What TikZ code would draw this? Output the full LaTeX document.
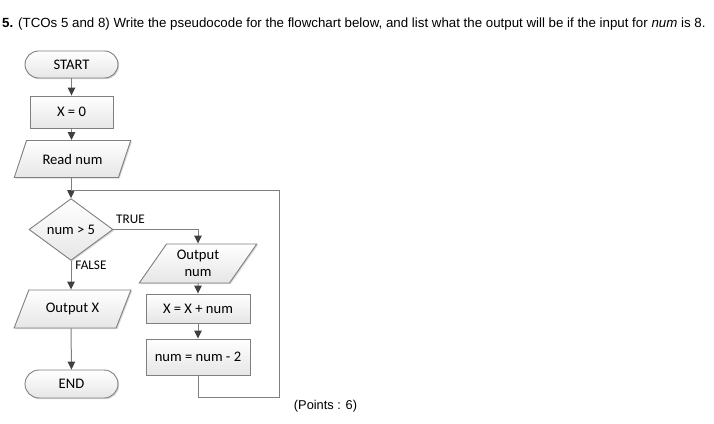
\documentclass[tikz,border=0pt]{standalone}
\usepackage{fontspec}
\setmainfont{Liberation Sans}
\newfontfamily\flowfont{Carlito}
\usetikzlibrary{shapes.geometric,shapes.misc,arrows.meta,shadows}
\definecolor{edgegray}{HTML}{7F7F7F}
\definecolor{tipgray}{HTML}{404040}
\definecolor{fillbot}{HTML}{E6E6E6}
\tikzset{
  shp/.style={draw=edgegray, line width=0.9pt, top color=white, bottom color=fillbot,
     font=\flowfont\fontsize{14.6}{17}\selectfont, inner sep=1pt, align=center,
     drop shadow={shadow xshift=1.2pt, shadow yshift=-1.2pt, fill=black!25, opacity=0.6}},
  term/.style={shp, rounded rectangle, minimum width=95pt, minimum height=27pt},
  procbox/.style={shp, rectangle, minimum width=104pt, minimum height=30pt},
  iobox/.style={shp, trapezium, trapezium left angle=56, trapezium right angle=124,
     trapezium stretches=true, minimum width=117pt, minimum height=37pt},
  decbox/.style={shp, diamond, minimum width=84pt, minimum height=53pt},
  conn/.style={draw=edgegray, line width=1pt},
  arr/.style={conn, -{Triangle[width=7.5pt,length=8pt,color=tipgray]}},
  lbl/.style={font=\flowfont\fontsize{13.2}{14}\selectfont, inner sep=0pt},
}
\begin{document}
\begin{tikzpicture}[x=1pt,y=-1pt]
\useasboundingbox (0,0) rectangle (714,423);
\node[anchor=west, inner sep=0pt, font=\fontsize{13.3}{15}\selectfont] (title) at (2,24)
  {\textbf{5.} (TCOs 5 and 8) Write the pseudocode for the flowchart below, and list what the output will be if the input for \textit{num} is 8.};

\node[term] (start) at (71.5,64.5) {START};
\node[procbox, minimum width=83pt, minimum height=32pt] (x0) at (71.5,112) {X = 0};
\node[iobox] (read) at (72.5,159) {Read num};
\node[decbox] (dec) at (71,229.5) {num > 5};
\node[iobox, minimum width=118pt, minimum height=39pt] (outnum) at (198,263.5) {Output\\num};
\node[iobox, minimum height=38pt] (outx) at (72.5,309) {Output X};
\node[procbox, minimum height=29pt] (xadd) at (198,308.5) {X = X + num};
\node[procbox, minimum height=36pt] (numsub) at (198,357) {num = num - 2};
\node[term, minimum height=28pt] (end) at (71.5,384) {END};

\coordinate (j) at (71,190);
\coordinate (lp1) at (279,397);
\coordinate (lp2) at (279,190);

\draw[arr] (start.south) -- (x0.north);
\draw[arr] (x0.south) -- (read.north -| x0.south);
\draw[arr] (read.south -| j) -- (dec.north);
\draw[arr] (dec.east) -| (outnum.north);
\draw[arr] (outnum.south) -- (xadd.north);
\draw[arr] (xadd.south) -- (numsub.north);
\draw[conn] (numsub.south) |- (lp1) -- (lp2) -- (j);
\draw[arr] (dec.south) -- (outx.north -| dec.south);
\draw[arr] (outx.south -| dec.south) -- (end.north);

\node[lbl] (ltrue) at (130.5,219) {TRUE};
\node[lbl] (lfalse) at (91,265) {FALSE};
\node[inner sep=0pt, font=\fontsize{12.8}{14}\selectfont] (pts) at (325.5,406) {(Points : 6)};
\end{tikzpicture}
\end{document}
